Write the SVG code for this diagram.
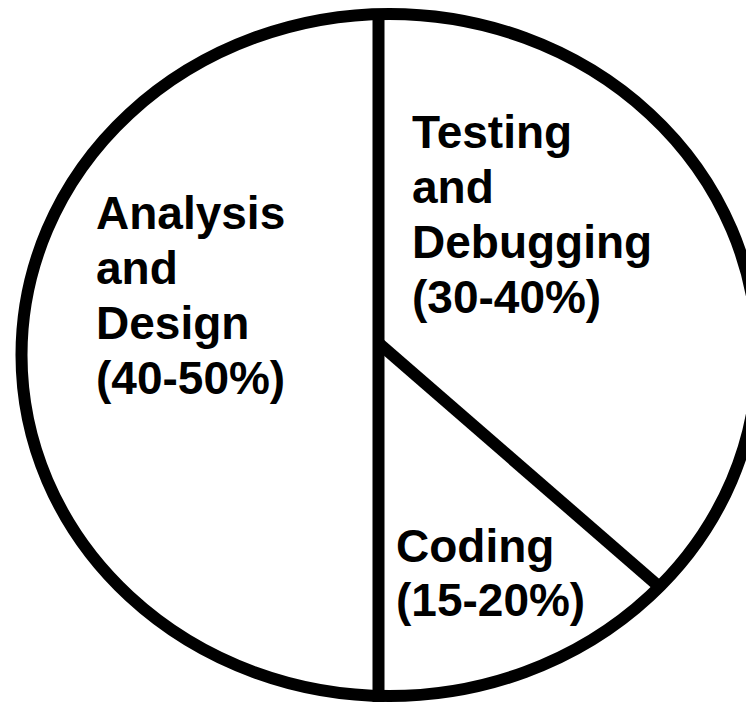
<svg xmlns="http://www.w3.org/2000/svg" width="746" height="702" viewBox="0 0 746 702">
<style>
.ln{fill:none;stroke:#000;stroke-width:12}
.t{font-family:"Liberation Sans",Arial,sans-serif;font-weight:bold;font-size:46px;fill:#000}
</style>
<rect width="746" height="702" fill="#fff"/>
<g id="pie">
<ellipse class="ln" cx="389.5" cy="355" rx="368" ry="341"/>
</g>
<g id="connectors">
<line class="ln" x1="378.5" y1="10" x2="378.5" y2="702"/>
<line class="ln" x1="378.5" y1="343" x2="663" y2="590"/>
</g>
<g id="analysis">
<text class="t" x="96" y="229">Analysis</text>
<text class="t" x="96" y="284">and</text>
<text class="t" x="96" y="339">Design</text>
<text class="t" x="96" y="394">(40-50%)</text>
</g>
<g id="testing">
<text class="t" x="412" y="148">Testing</text>
<text class="t" x="412" y="203">and</text>
<text class="t" x="412" y="258">Debugging</text>
<text class="t" x="412" y="313">(30-40%)</text>
</g>
<g id="coding">
<text class="t" x="396" y="562">Coding</text>
<text class="t" x="396" y="616">(15-20%)</text>
</g>
</svg>
